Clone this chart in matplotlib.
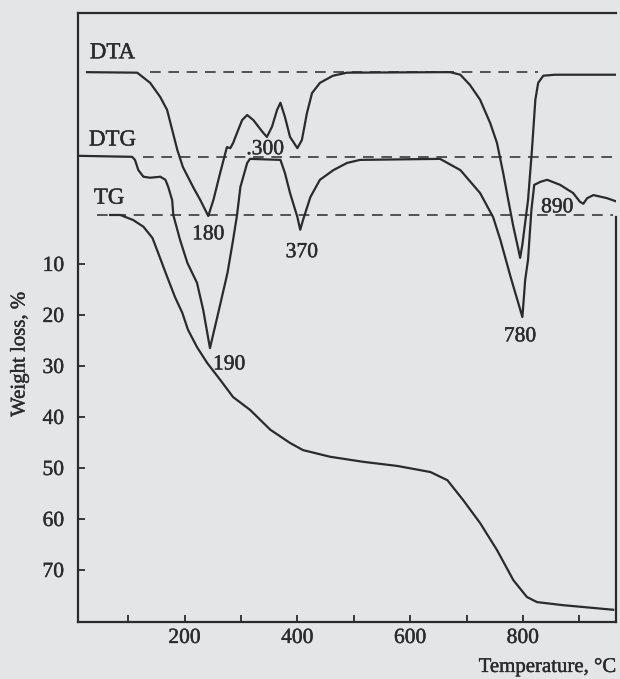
import matplotlib.pyplot as plt
import matplotlib.patheffects as pe
from matplotlib.ticker import MultipleLocator

plt.rcParams['font.family'] = ['Liberation Serif', 'DejaVu Serif']
plt.rcParams['font.size'] = 15

INK = '#2b2b2b'
PAPER = '#e4e5e7'
HEAVY = [pe.withStroke(linewidth=0.3, foreground=INK)]

# temperature (deg C) and signal; DTA/DTG are offset in
# the same units as the weight-loss axis so they sit above the TG curve
dta_t = [27, 116, 139, 157, 169, 178, 187, 197, 215, 228, 242, 251, 263, 275,
         281, 286, 293, 302, 311, 322, 338, 346, 355, 364, 370, 378, 387, 400,
         408, 417, 426, 440, 463, 488, 653, 671, 689, 706, 724, 742, 754, 765,
         774, 783, 791, 795, 799, 809, 816, 822, 827, 836, 857, 972]
dta_v = [-27.6, -27.5, -25.5, -22.7, -20.2, -16.3, -12.4, -9.0, -5.1, -2.5, 0.6,
         -2.5, -7.8, -12.9, -12.7, -13.7, -15.7, -18.2, -19.2, -18.2, -15.9,
         -14.9, -16.9, -20.2, -21.6, -18.8, -14.9, -12.7, -14.3, -19.6, -23.5,
         -25.5, -26.9, -27.5, -27.6, -27.6, -27.1, -25.1, -22.2, -17.6, -13.7,
         -7.8, -2.5, 2.7, 6.7, 8.8, 6.2, -2.5, -12.4, -22.2, -25.5, -26.9,
         -27.1, -27.1]

dtg_t = [12, 107, 112, 118, 127, 139, 157, 166, 171, 178, 180, 192, 205, 222,
         233, 245, 258, 276, 286, 293, 299, 311, 316, 370, 378, 387, 400, 405,
         410, 423, 440, 464, 488, 511, 653, 689, 724, 747, 760, 778, 799, 804,
         809, 815, 820, 831, 843, 866, 889, 901, 907, 914, 925, 949, 972]
dtg_v = [-11.2, -11.0, -10.4, -8.4, -7.1, -6.9, -7.1, -6.5, -5.1, -2.5, 0.4,
         5.3, 9.8, 13.7, 19.0, 26.5, 20.4, 11.8, 5.3, 0.4, -5.1, -9.8, -10.6,
         -10.4, -7.8, -3.9, 0.8, 3.3, 1.4, -3.1, -6.5, -8.4, -9.8, -10.4, -10.6,
         -8.4, -3.9, 0.8, 5.3, 12.5, 20.4, 13.1, 9.2, -0.6, -5.5, -6.1, -6.5,
         -5.5, -3.9, -2.2, -1.8, -2.9, -3.5, -2.9, -2.0]

tg_t = [68, 86, 109, 127, 143, 153, 169, 183, 196, 206, 222, 240, 263, 286,
        316, 352, 387, 410, 458, 517, 577, 636, 666, 694, 724, 754, 783, 807,
        825, 871, 960]
tg_v = [0.4, 0.4, 1.4, 2.7, 4.9, 7.8, 12.5, 16.5, 19.6, 22.9, 26.3, 29.4, 32.7,
        36.1, 38.6, 42.5, 45.1, 46.5, 47.8, 48.8, 49.6, 50.8, 52.4, 56.3, 60.8,
        66.1, 72.0, 75.3, 76.3, 76.9, 77.8]

# dashed baselines: (start, end, level)
baselines = [(139, 827, -27.6), (126, 975, -11.0), (45, 960, 0.5)]

curve_names = ['DTA', 'DTG', 'TG']
name_pos = [(72, -31.4), (72, -14.3), (66, -2.9)]

peak_labels = ['180', '.300', '370', '190', '780', '890']
peak_pos = [(242, 4.3), (343, -12.4), (408, 7.8), (279, 29.8), (795, 24.3),
            (861, -1.0)]

fig = plt.figure(figsize=(6.2, 6.79), dpi=100, facecolor=PAPER)
ax = fig.add_axes([78 / 620, 1 - 622 / 679, (616 - 78) / 620, (622 - 13) / 679])
ax.set_facecolor(PAPER)

for t, v in [(dta_t, dta_v), (dtg_t, dtg_v), (tg_t, tg_v)]:
    ax.plot(t, v, color=INK, lw=1.6, solid_joinstyle='round')
for x0, x1, lev in baselines:
    ax.plot([x0, x1], [lev, lev], color=INK, lw=1.1, ls=(0, (7, 5)))

for name, (x, y) in zip(curve_names, name_pos):
    ax.text(x, y, name, ha='center', va='center', color=INK, fontsize=16.5,
            path_effects=HEAVY)
for lab, (x, y) in zip(peak_labels, peak_pos):
    ax.text(x, y, lab, ha='center', va='center', color=INK, fontsize=15.5,
            path_effects=HEAVY)

ax.set_xlim(11, 965)
ax.set_ylim(80.2, -39.2)
ax.xaxis.set_major_locator(MultipleLocator(200))
ax.xaxis.set_minor_locator(MultipleLocator(100))
ax.set_xticks([200, 400, 600, 800])
ax.set_yticks([10, 20, 30, 40, 50, 60, 70])
ax.tick_params(which='both', direction='in', color=INK, labelcolor=INK,
               width=1.3, labelsize=15.5)
ax.tick_params(axis='x', which='major', length=5, pad=5)
ax.tick_params(axis='x', which='minor', length=5)
ax.tick_params(axis='y', length=5, pad=10)
for lab in ax.get_xticklabels() + ax.get_yticklabels():
    lab.set_path_effects(HEAVY)

for s in ax.spines.values():
    s.set_color(INK)
    s.set_linewidth(1.6)
ax.spines['right'].set_bounds(0.8, 80.2)

fig.text(20 / 620, 1 - 354 / 679, 'Weight loss, %', rotation=90, ha='center',
         va='center', color=INK, fontsize=15, path_effects=HEAVY)
fig.text(617 / 620, 1 - 667 / 679, 'Temperature, \u00b0C', ha='right',
         va='center', color=INK, fontsize=15, path_effects=HEAVY)

fig.savefig('out.png', dpi=100, facecolor=PAPER)
